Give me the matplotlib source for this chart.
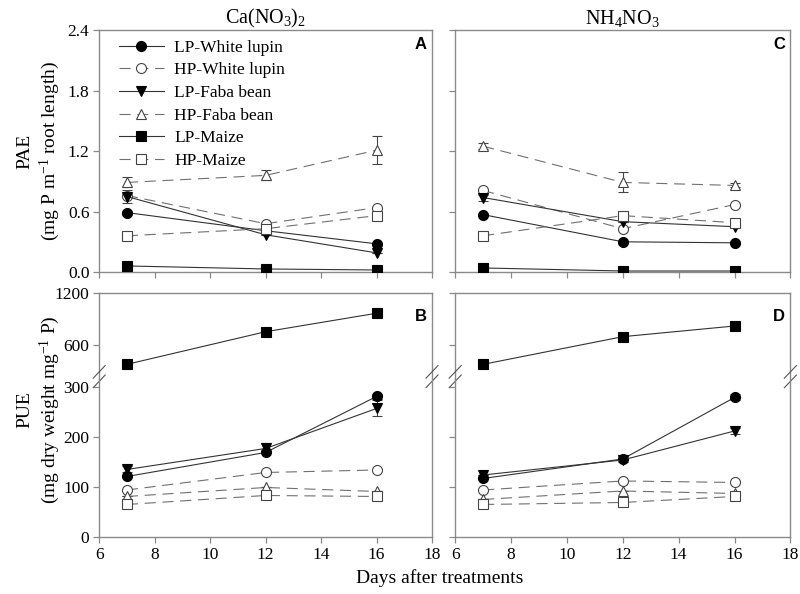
"""PAE / PUE of white lupin, faba bean and maize under two N sources.

Top row: PAE, bottom row: PUE with a broken y axis (0-300 | 300-1200).
Left column Ca(NO3)2, right column NH4NO3.
"""
import matplotlib
matplotlib.use("Agg")
import matplotlib.pyplot as plt

plt.rcParams["font.family"] = ["Liberation Serif", "DejaVu Serif"]
plt.rcParams["mathtext.fontset"] = "custom"
plt.rcParams["mathtext.rm"] = "Liberation Serif"
plt.rcParams["mathtext.it"] = "Liberation Serif:italic"

DAYS = [7, 12, 16]
SERIES = ["LP-White lupin", "HP-White lupin", "LP-Faba bean",
          "HP-Faba bean", "LP-Maize", "HP-Maize"]

# rows follow SERIES order
PAE_CA = [
    [0.59, 0.41, 0.28],
    [0.76, 0.48, 0.64],
    [0.75, 0.37, 0.19],
    [0.89, 0.96, 1.21],
    [0.06, 0.03, 0.02],
    [0.36, 0.43, 0.56],
]
PAE_CA_ERR = [
    [0.02, 0.0, 0.0],
    [0.0, 0.0, 0.0],
    [0.06, 0.0, 0.0],
    [0.05, 0.05, 0.14],
    [0.0, 0.0, 0.0],
    [0.0, 0.0, 0.0],
]
PAE_NH = [
    [0.57, 0.30, 0.29],
    [0.81, 0.43, 0.67],
    [0.74, 0.50, 0.45],
    [1.25, 0.89, 0.86],
    [0.04, 0.01, 0.01],
    [0.36, 0.56, 0.49],
]
PAE_NH_ERR = [
    [0.0, 0.0, 0.0],
    [0.0, 0.0, 0.0],
    [0.03, 0.0, 0.0],
    [0.03, 0.10, 0.02],
    [0.0, 0.0, 0.0],
    [0.0, 0.0, 0.0],
]
PUE_CA = [
    [121, 169, 281],
    [94, 129, 134],
    [135, 177, 257],
    [81, 99, 91],
    [377, 753, 966],
    [65, 83, 81],
]
PUE_CA_ERR = [
    [0, 0, 5],
    [0, 0, 0],
    [6, 10, 16],
    [0, 0, 0],
    [0, 0, 0],
    [0, 0, 0],
]
PUE_NH = [
    [117, 156, 279],
    [94, 112, 109],
    [124, 154, 212],
    [75, 92, 87],
    [377, 696, 819],
    [65, 69, 81],
]
PUE_NH_ERR = [
    [0, 0, 6],
    [0, 0, 0],
    [0, 4, 6],
    [0, 0, 0],
    [0, 0, 0],
    [0, 0, 0],
]

BREAK_AT = 300  # PUE axis break

# marker, filled?, solid line?
STYLE = [
    ("o", True, True),
    ("o", False, False),
    ("v", True, True),
    ("^", False, False),
    ("s", True, True),
    ("s", False, False),
]

SPINE = "#8a8a8a"
TICK_FS = 12.5


def _style_axes(ax, xlabels=False, ylabels=True):
    for s in ax.spines.values():
        s.set_color(SPINE)
        s.set_linewidth(1.0)
    ax.tick_params(direction="out", length=4, width=0.9, color=SPINE,
                   labelsize=TICK_FS, right=False, top=False, pad=3)
    ax.set_xlim(6, 18)
    ax.set_xticks(range(6, 19, 2))
    if not xlabels:
        ax.tick_params(labelbottom=False)
    if not ylabels:
        ax.tick_params(labelleft=False)


def _draw(ax, values, errors, keep=lambda ys: True):
    handles = []
    for (marker, filled, solid), name, ys, es in zip(STYLE, SERIES, values, errors):
        if not keep(ys):
            continue
        line_col = "#333333" if solid else "#707070"
        ax.errorbar(DAYS, ys, yerr=es, fmt="none", ecolor="#444444",
                    elinewidth=0.8, capsize=3.5, capthick=0.8, zorder=2)
        h, = ax.plot(DAYS, ys, color=line_col, lw=0.8,
                     linestyle="-" if solid else (0, (10, 6)),
                     marker=marker, markersize=7.2 if marker != "s" else 6.8,
                     markerfacecolor="black" if filled else "white",
                     markeredgecolor="black" if filled else "#444444",
                     markeredgewidth=0.8, label=name, zorder=3)
        handles.append(h)
    return handles


def _break_marks(ax):
    # "//" on both side spines at the top of the lower PUE axes
    kw = dict(transform=ax.transAxes, color="#555555", lw=0.8, clip_on=False)
    dx, dy = 0.018, 0.04
    for x in (0.0, 1.0):
        for yc in (1.045, 0.985):
            ax.plot([x - dx, x + dx], [yc - dy, yc + dy], **kw)


def main():
    fig = plt.figure(figsize=(8, 5.94), dpi=100)

    cols = [(0.124, 0.416), (0.569, 0.419)]
    pae_data = [(PAE_CA, PAE_CA_ERR), (PAE_NH, PAE_NH_ERR)]
    pue_data = [(PUE_CA, PUE_CA_ERR), (PUE_NH, PUE_NH_ERR)]
    titles = [r"Ca(NO$_3$)$_2$", r"NH$_4$NO$_3$"]
    letters = [("A", "B"), ("C", "D")]

    for ci, (x0, w) in enumerate(cols):
        first = ci == 0

        # PAE panel
        ax_t = fig.add_axes([x0, 0.5421, w, 0.4066])
        handles = _draw(ax_t, *pae_data[ci])
        ax_t.set_ylim(0, 2.4)
        ax_t.set_yticks([0, 0.6, 1.2, 1.8, 2.4])
        ax_t.yaxis.set_major_formatter(plt.FormatStrFormatter("%.1f"))
        _style_axes(ax_t, xlabels=False, ylabels=first)
        ax_t.set_title(titles[ci], fontsize=14.5, pad=5)
        ax_t.text(0.985, 0.94, letters[ci][0], transform=ax_t.transAxes,
                  ha="right", va="center", fontsize=12, fontweight="bold",
                  family="Liberation Sans")
        if first:
            ax_t.legend(handles=handles, loc="upper left",
                        bbox_to_anchor=(0.022, 1.012), frameon=False,
                        fontsize=12.5, handlelength=2.6, handletextpad=0.6,
                        labelspacing=0.37, numpoints=1, borderaxespad=0.3)

        # PUE panel, broken axis: upper part (maize) and lower part
        ax_hi = fig.add_axes([x0, 0.3620, w, 0.1448])
        ax_lo = fig.add_axes([x0, 0.0960, w, 0.2660])
        _draw(ax_hi, *pue_data[ci], keep=lambda ys: min(ys) > BREAK_AT)
        _draw(ax_lo, *pue_data[ci], keep=lambda ys: max(ys) <= BREAK_AT)
        ax_hi.set_ylim(208, 1200)
        ax_hi.set_yticks([600, 1200])
        ax_lo.set_ylim(0, 316)
        ax_lo.set_yticks([0, 100, 200, 300])
        _style_axes(ax_hi, xlabels=False, ylabels=first)
        _style_axes(ax_lo, xlabels=True, ylabels=first)
        ax_hi.spines["bottom"].set_visible(False)
        ax_hi.tick_params(bottom=False)
        ax_lo.spines["top"].set_visible(False)
        _break_marks(ax_lo)
        ax_hi.text(0.985, 0.73, letters[ci][1], transform=ax_hi.transAxes,
                   ha="right", va="center", fontsize=12, fontweight="bold",
                   family="Liberation Sans")

    fig.text(0.049, 0.746, "PAE\n" + r"(mg P m$^{-1}$ root length)",
             rotation=90, ha="center", va="center", fontsize=14,
             linespacing=1.2)
    fig.text(0.049, 0.31, "PUE\n" + r"(mg dry weight mg$^{-1}$ P)",
             rotation=90, ha="center", va="center", fontsize=14,
             linespacing=1.2)
    fig.text(0.55, 0.027, "Days after treatments", ha="center",
             va="center", fontsize=14)

    fig.savefig("out.png", dpi=100)


if __name__ == "__main__":
    main()
